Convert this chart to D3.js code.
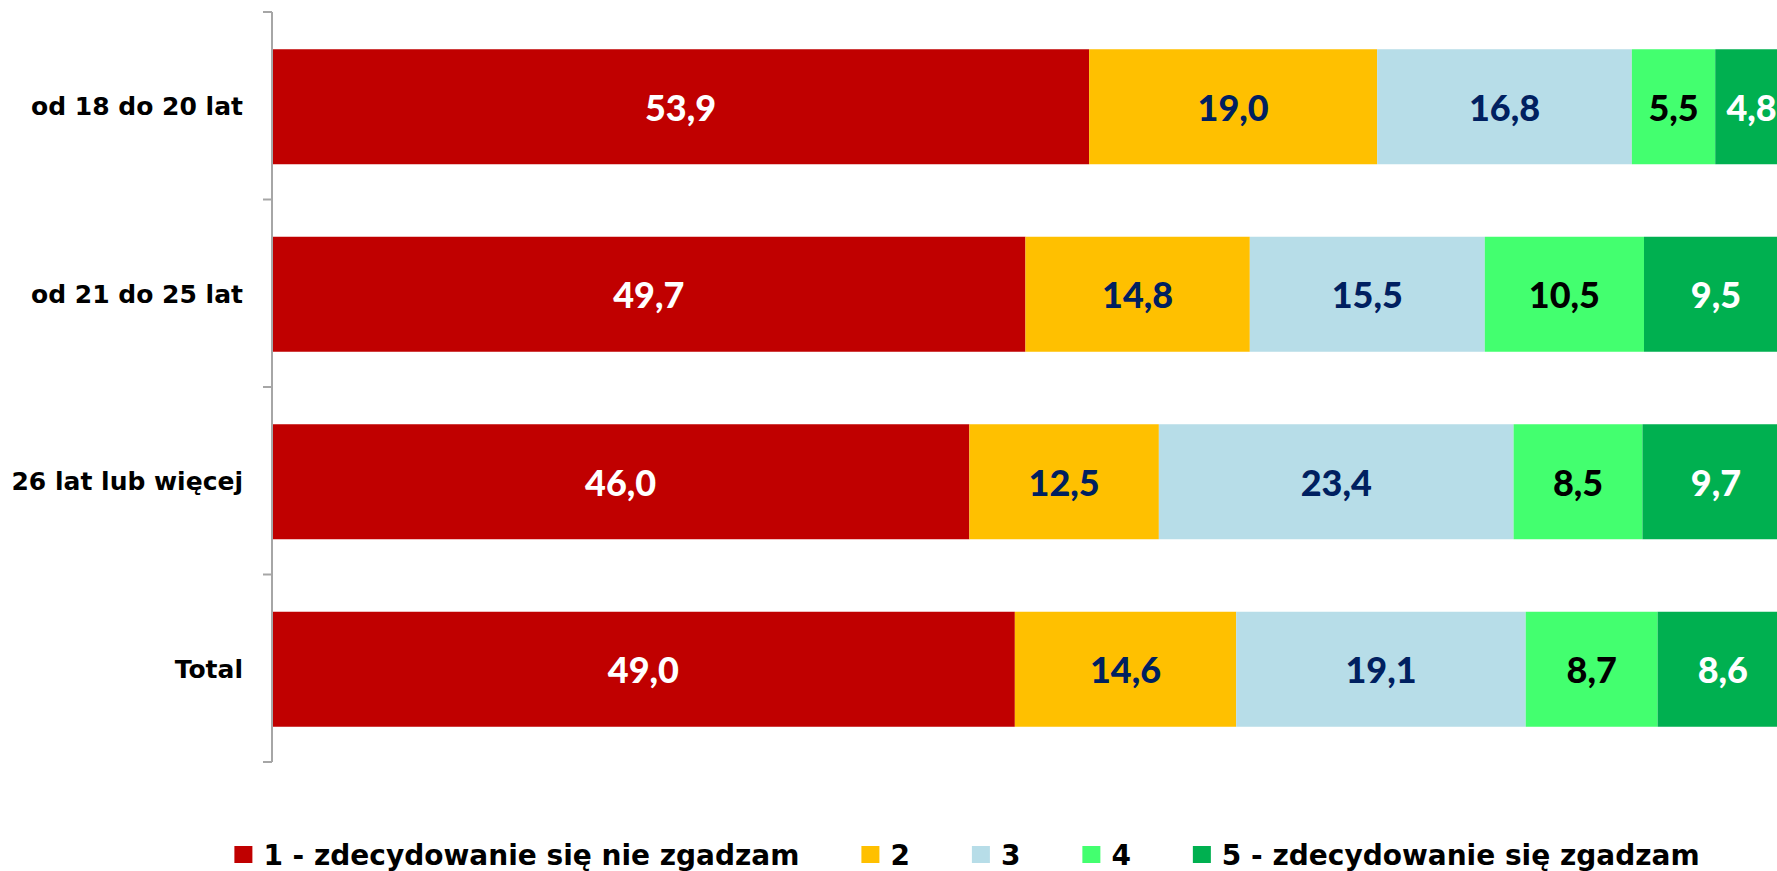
<!DOCTYPE html>
<html>
<head>
<meta charset="utf-8">
<script src="https://cdn.jsdelivr.net/npm/d3@7"></script>
<style>
  html, body { margin: 0; padding: 0; background: #fff; overflow: hidden; }
  svg { display: block; }
</style>
</head>
<body>
<svg id="chart" width="1777" height="871"></svg>
<script>
// Kategorien (Altersgruppen) und Serien
const categories = ["od 18 do 20 lat", "od 21 do 25 lat", "26 lat lub więcej", "Total"];
const seriesNames = ["1 - zdecydowanie się nie zgadzam", "2", "3", "4", "5 - zdecydowanie się zgadzam"];

// Werte je Serie, in Reihenfolge der Kategorien
const s1 = [53.9, 49.7, 46.0, 49.0];
const s2 = [19.0, 14.8, 12.5, 14.6];
const s3 = [16.8, 15.5, 23.4, 19.1];
const s4 = [5.5, 10.5, 8.5, 8.7];
const s5 = [4.8, 9.5, 9.7, 8.6];
const seriesValues = [s1, s2, s3, s4, s5];

const colors = ["#C00000", "#FFC000", "#B7DDE8", "#43FF6F", "#00B050"];
const labelColors = ["#FFFFFF", "#002060", "#002060", "#000000", "#FFFFFF"];

const svg = d3.select("#chart");

// Skalen
const x = d3.scaleLinear().domain([0, 100]).range([272, 1788]);
const y = d3.scaleBand().domain(categories).range([12, 762]).padding(0);
const barH = 115;
const barOff = (y.bandwidth() - barH) / 2 + 1;

const fmt = v => d3.format(".1f")(v).replace(".", ",");

// Gestapelte Daten aufbauen
const rows = categories.map((c, i) => {
  const r = { cat: c };
  seriesNames.forEach((s, k) => { r[s] = seriesValues[k][i]; });
  return r;
});
const stacked = d3.stack().keys(seriesNames)(rows);

const gBars = svg.append("g");
stacked.forEach((layer, k) => {
  const g = gBars.append("g").attr("fill", colors[k]);
  g.selectAll("rect")
    .data(layer)
    .enter()
    .append("rect")
    .attr("x", d => x(d[0]))
    .attr("y", d => y(d.data.cat) + barOff)
    .attr("width", d => x(d[1]) - x(d[0]))
    .attr("height", barH);

  gBars.append("g").selectAll("text")
    .data(layer)
    .enter()
    .append("text")
    .attr("x", d => (x(d[0]) + x(d[1])) / 2)
    .attr("y", d => y(d.data.cat) + y.bandwidth() / 2 + 1)
    .attr("text-anchor", "middle")
    .attr("dominant-baseline", "central")
    .attr("fill", labelColors[k])
    .style("font-family", "Lato, 'DejaVu Sans', sans-serif")
    .style("font-weight", "900")
    .style("font-size", "36px")
    .text(d => fmt(d[1] - d[0]));
});

// Y-Achse mit Ticks an den Bandgrenzen
const axisX = 272;
const axisColor = "#A6A6A6";
const gAxis = svg.append("g");
gAxis.append("line")
  .attr("x1", axisX).attr("x2", axisX)
  .attr("y1", y.range()[0]).attr("y2", y.range()[1])
  .attr("stroke", axisColor).attr("stroke-width", 2);

const tickPos = categories.map(c => y(c)).concat([y.range()[1]]);
gAxis.selectAll("line.tick")
  .data(tickPos)
  .enter()
  .append("line")
  .attr("class", "tick")
  .attr("x1", axisX - 9).attr("x2", axisX)
  .attr("y1", d => d).attr("y2", d => d)
  .attr("stroke", axisColor).attr("stroke-width", 2);

gAxis.selectAll("text")
  .data(categories)
  .enter()
  .append("text")
  .attr("x", 243)
  .attr("y", d => y(d) + y.bandwidth() / 2 + 1)
  .attr("text-anchor", "end")
  .attr("dominant-baseline", "central")
  .attr("fill", "#000")
  .style("font-family", "'DejaVu Sans', sans-serif")
  .style("font-weight", "bold")
  .style("font-size", "25px")
  .text(d => d);

// Legende
const legend = svg.append("g");
const legendY = 855;
const legendGap = 62;
let lx = 0;
seriesNames.forEach((s, k) => {
  const g = legend.append("g");
  g.append("rect")
    .attr("x", 0).attr("y", legendY - 9)
    .attr("width", 18).attr("height", 17)
    .attr("fill", colors[k]);
  const t = g.append("text")
    .attr("x", 29).attr("y", legendY)
    .attr("dominant-baseline", "central")
    .attr("fill", "#000")
    .style("font-family", "'DejaVu Sans', sans-serif")
    .style("font-weight", "bold")
    .style("font-size", "28px")
    .text(s);
  const w = 29 + t.node().getComputedTextLength();
  g.attr("transform", `translate(${lx},0)`);
  lx += w + legendGap;
});
const totalW = lx - legendGap;
legend.attr("transform", `translate(${967 - totalW / 2},0)`);
</script>
</body>
</html>
